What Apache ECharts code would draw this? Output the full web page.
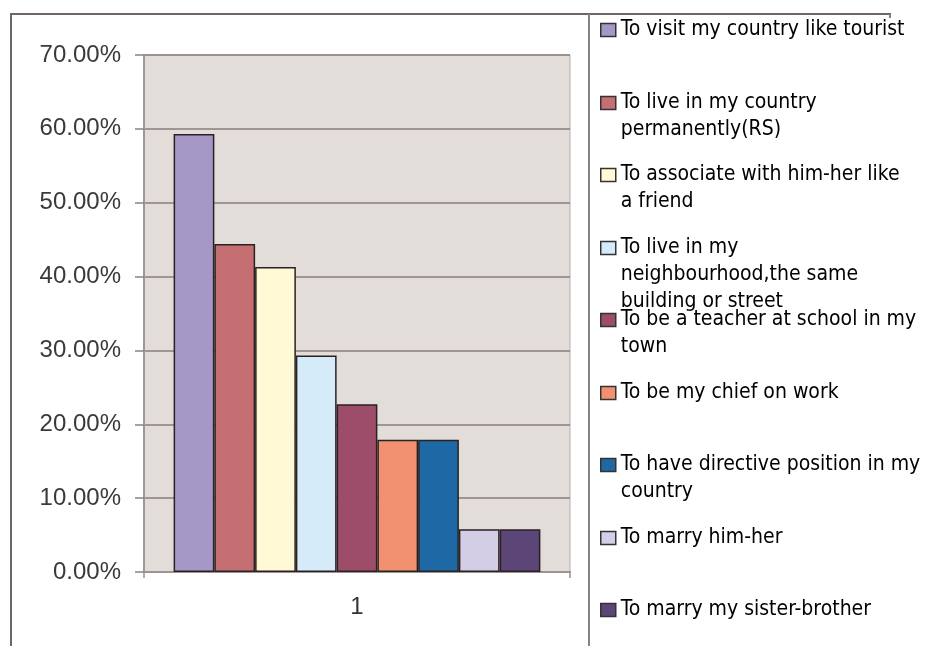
<!DOCTYPE html>
<html>
<head>
<meta charset="utf-8">
<script src="https://cdn.jsdelivr.net/npm/echarts@6/dist/echarts.min.js"></script>
<style>
html,body{margin:0;padding:0;background:#fff;}
#chart{width:925px;height:646px;}
</style>
</head>
<body>
<div id="chart"></div>
<script>
// ---- data ----
var categories = ['1'];
var seriesNames = [
  'To visit my country like tourist',
  'To live in my country permanently(RS)',
  'To associate with him-her like a friend',
  'To live in my neighbourhood,the same building or street',
  'To be a teacher at school in my town',
  'To be my chief on work',
  'To have directive position in my country',
  'To marry him-her',
  'To marry my sister-brother'
];
var legendLabels = [
  'To visit my country like tourist',
  'To live in my country\npermanently(RS)',
  'To associate with him-her like\na friend',
  'To live in my\nneighbourhood,the same\nbuilding or street',
  'To be a teacher at school in my\ntown',
  'To be my chief on work',
  'To have directive position in my\ncountry',
  'To marry him-her',
  'To marry my sister-brother'
];
var seriesValues = [59.3, 44.4, 41.3, 29.3, 22.7, 17.9, 17.9, 5.8, 5.8];
var yTicks = [0, 10, 20, 30, 40, 50, 60, 70];

// ---- styles ----
var colors = ['#a598c6', '#c56f73', '#fff9d6', '#d6ebf9', '#9d4d6a', '#f19170', '#1e68a6', '#d4cde6', '#5c4577'];
var legendCenters = [30, 103, 175, 248, 320, 393, 465, 538, 610];
var LH = 27;
var legendFont = '"DejaVu Sans Condensed", "DejaVu Sans", sans-serif';
var axisFont = '"Liberation Sans", Arial, sans-serif';

var chart = echarts.init(document.getElementById('chart'), null, {renderer: 'canvas'});

var series = seriesNames.map(function (name, i) {
  return {
    name: name,
    type: 'bar',
    data: [seriesValues[i]],
    barGap: '0%',
    barCategoryGap: '13.9%',
    itemStyle: {color: colors[i], borderColor: '#2a2222', borderWidth: 1.5},
    emphasis: {disabled: true}
  };
});

function repeatNL(k) { var s = ''; for (var j = 0; j < k; j++) { s += '\n'; } return s; }

var legends = seriesNames.map(function (name, i) {
  var n = legendLabels[i].split('\n').length;
  var txt = repeatNL(n - 1) + legendLabels[i];
  return {
    data: [name],
    orient: 'vertical',
    left: 600,
    top: legendCenters[i] - (2 * n - 1) * LH / 2,
    padding: 0,
    itemWidth: 15,
    itemHeight: 13,
    icon: 'rect',
    selectedMode: false,
    itemStyle: {borderColor: '#333', borderWidth: 1.5},
    formatter: function () { return txt; },
    textStyle: {
      fontFamily: legendFont,
      fontSize: 21,
      color: '#000',
      lineHeight: LH
    }
  };
});

var option = {
  animation: false,
  backgroundColor: '#fff',
  grid: {
    left: 144, right: 355, top: 55, bottom: 74,
    show: true, backgroundColor: '#e2ddd9', borderColor: '#b8aeae', borderWidth: 1
  },
  legend: legends,
  xAxis: {
    type: 'category',
    data: categories,
    axisLine: {lineStyle: {color: '#9d9393', width: 2}},
    axisTick: {show: true, length: 6, lineStyle: {color: '#9d9393', width: 1.5}},
    axisLabel: {margin: 23, fontFamily: axisFont, fontSize: 24, color: '#333'}
  },
  yAxis: {
    type: 'value',
    min: yTicks[0],
    max: yTicks[yTicks.length - 1],
    interval: 10,
    axisLine: {show: true, lineStyle: {color: '#a09898', width: 2}},
    axisTick: {show: true, length: 9, lineStyle: {color: '#8a8282', width: 1.5}},
    splitLine: {show: true, lineStyle: {color: '#877e7e', width: 1.5}},
    axisLabel: {
      margin: 23,
      fontFamily: axisFont,
      fontSize: 24,
      color: '#3a3a3a',
      formatter: function (v) { return v.toFixed(2) + '%'; }
    }
  },
  graphic: [
    {type: 'line', shape: {x1: 11, y1: 14, x2: 11, y2: 646}, style: {stroke: '#6e6666', lineWidth: 2}},
    {type: 'line', shape: {x1: 10, y1: 14, x2: 891, y2: 14}, style: {stroke: '#6e6666', lineWidth: 2}},
    {type: 'line', shape: {x1: 589, y1: 14, x2: 589, y2: 646}, style: {stroke: '#8a8282', lineWidth: 2}},
    {type: 'line', shape: {x1: 890, y1: 14, x2: 890, y2: 18}, style: {stroke: '#8a8282', lineWidth: 2}}
  ],
  series: series
};
chart.setOption(option);
</script>
</body>
</html>
